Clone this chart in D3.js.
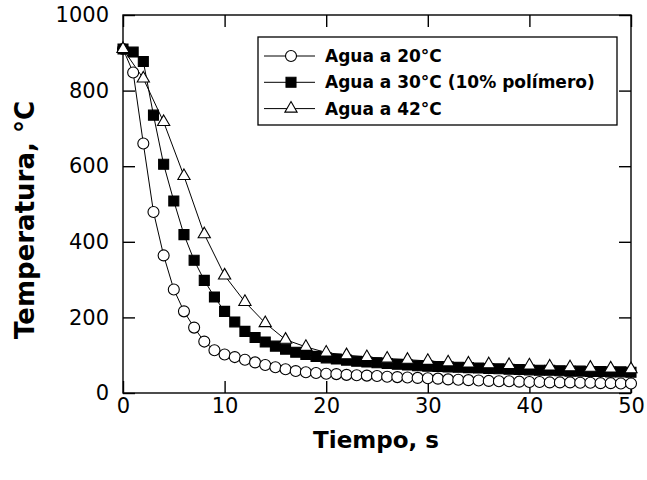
<!DOCTYPE html>
<html><head><meta charset="utf-8">
<script src="https://cdn.jsdelivr.net/npm/d3@7"></script>
<style>body{margin:0;background:#fff}svg{display:block}</style>
</head><body><svg id="c" width="647" height="480"></svg>
<script>
const seriesNames = ["Agua a 20°C", "Agua a 30°C (10% polímero)", "Agua a 42°C"];
const timeCircles = d3.range(0, 51, 1);
const tempCircles = [910,848,660,479,364,274,216,173,136,113,102,95,88,81,74,68,63,58,55,53,51,50,48,47,46,45,43,42,41,40,39,38,36,35,34,33,32,31,31,30,29,29,28,28,28,27,27,26,26,25,25];
const timeSquares = d3.range(0, 51, 1);
const tempSquares = [910,902,877,735,605,508,419,351,298,254,216,188,163,147,135,124,116,108,102,97,93,90,87,84,82,80,78,76,74,72,71,70,69,68,67,66,65,64,63,62,61,60,60,59,58,58,57,57,56,56,55];
const timeTriangles = d3.range(0, 51, 2);
const tempTriangles = [910,832,717,574,420,311,241,185,141,122,107,100,95,91,88,85,81,78,76,74,73,70,68,67,65,63];
const xTicks = [0,10,20,30,40,50];
const yTicks = [0,200,400,600,800,1000];

const svg = d3.select("#c");
const L=123, R=631, T=15, B=393;
const x = d3.scaleLinear().domain([0,50]).range([L,R]);
const y = d3.scaleLinear().domain([0,1000]).range([B,T]);
const font = "'DejaVu Sans', sans-serif";

svg.append("rect").attr("x",L).attr("y",T).attr("width",R-L).attr("height",B-T)
  .attr("fill","none").attr("stroke","#000").attr("stroke-width",1.4);

const ax = svg.append("g");
const gBottom = ax.append("g").attr("transform",`translate(0,${B})`)
  .call(d3.axisBottom(x).tickValues(xTicks).tickSizeInner(-12).tickSizeOuter(0).tickPadding(5).tickFormat(d3.format("d")));
const gTop = ax.append("g").attr("transform",`translate(0,${T})`)
  .call(d3.axisTop(x).tickValues(xTicks).tickSizeInner(-12).tickSizeOuter(0).tickFormat(""));
const gLeft = ax.append("g").attr("transform",`translate(${L},0)`)
  .call(d3.axisLeft(y).tickValues(yTicks).tickSizeInner(-12).tickSizeOuter(0).tickPadding(14).tickFormat(d3.format("d")));
const gRight = ax.append("g").attr("transform",`translate(${R},0)`)
  .call(d3.axisRight(y).tickValues(yTicks).tickSizeInner(-12).tickSizeOuter(0).tickFormat(""));
[gBottom,gTop,gLeft,gRight].forEach(g=>{
  g.attr("font-family",font).attr("font-size",21);
  g.select(".domain").remove();
  g.selectAll(".tick line").attr("stroke","#000").attr("stroke-width",1.4);
  g.selectAll(".tick text").attr("fill","#000");
});

svg.append("text").attr("x",376).attr("y",448).attr("text-anchor","middle")
  .attr("font-family",font).attr("font-weight","bold").attr("font-size",23).text("Tiempo, s");
svg.append("text").attr("transform",`translate(34,220) rotate(-90)`).attr("text-anchor","middle")
  .attr("font-family",font).attr("font-weight","bold").attr("font-size",26).text("Temperatura, °C");

const line = d3.line().x(d=>x(d[0])).y(d=>y(d[1]));
const series = [
  {t:timeCircles, v:tempCircles, sym:d3.symbolCircle, size:95, fill:"#fff"},
  {t:timeSquares, v:tempSquares, sym:d3.symbolSquare, size:100, fill:"#000"},
  {t:timeTriangles, v:tempTriangles, sym:d3.symbolTriangle, size:65, fill:"#fff"}
];
series.forEach(s=>{
  const pts = s.t.map((t,i)=>[t,s.v[i]]);
  svg.append("path").attr("d",line(pts)).attr("fill","none").attr("stroke","#000").attr("stroke-width",1);
});
series.forEach(s=>{
  const pts = s.t.map((t,i)=>[t,s.v[i]]);
  svg.append("g").selectAll("path").data(pts).join("path")
    .attr("transform",d=>`translate(${x(d[0])},${y(d[1])})`)
    .attr("d",d3.symbol().type(s.sym).size(s.size))
    .attr("fill",s.fill).attr("stroke","#000").attr("stroke-width",1.1);
});

const lg = svg.append("g");
lg.append("rect").attr("x",258).attr("y",37).attr("width",359).attr("height",88)
  .attr("fill","#fff").attr("stroke","#000").attr("stroke-width",1.3);
series.forEach((s,i)=>{
  const yy = 56 + i*26.3;
  lg.append("line").attr("x1",264).attr("x2",315).attr("y1",yy).attr("y2",yy).attr("stroke","#000");
  lg.append("path").attr("transform",`translate(291,${yy})`)
    .attr("d",d3.symbol().type(s.sym).size(s.size)).attr("fill",s.fill).attr("stroke","#000").attr("stroke-width",1.1);
  lg.append("text").attr("x",325).attr("y",yy+6).attr("font-family",font).attr("font-weight","bold")
    .attr("font-size",17).text(seriesNames[i]);
});
</script></body></html>
